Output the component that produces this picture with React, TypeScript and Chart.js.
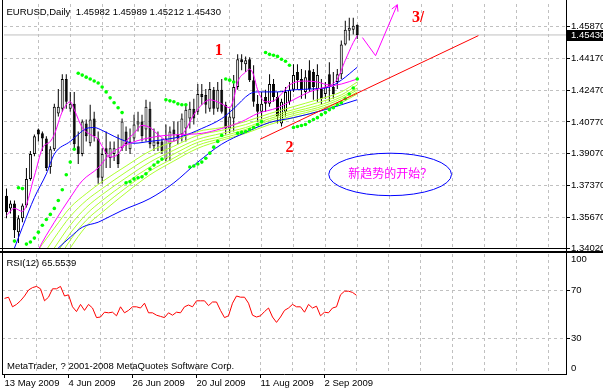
import React, { useEffect, useRef } from 'react';
import { Chart, registerables } from 'chart.js';

Chart.register(...registerables);

// ---------- text / axis data ----------
const symbol = 'EURUSD';
const timeframe = 'Daily';
const copyright = 'MetaTrader, ? 2001-2008 MetaQuotes Software Corp.';
const rsiPeriod = 12;
const dateLabels = ['13 May 2009', '4 Jun 2009', '26 Jun 2009', '20 Jul 2009', '11 Aug 2009', '2 Sep 2009'];
const labelBars = [0, 16, 32, 48, 64, 80];
const gridBars = [0, 8, 16, 24, 32, 40, 48, 56, 64, 72, 80, 88, 96, 104, 112, 120, 128, 136];
const priceTicks = [1.3402, 1.3567, 1.3737, 1.3907, 1.4077, 1.4247, 1.4417, 1.4587];
const rsiTickValues = [5, 30, 70, 95.8];
const rsiTickLabels = ['0', '30', '70', '100'];

// ---------- candles (13 May 2009 .. 14 Sep 2009) ----------
const opens = [1.3682, 1.3614, 1.3640, 1.3487, 1.3561, 1.3630, 1.3772, 1.3905, 1.4037, 1.4016,
  1.3989, 1.3836, 1.3931, 1.4122, 1.4148, 1.4307, 1.4148, 1.4174, 1.3947, 1.3905,
  1.4069, 1.3963, 1.4095, 1.3989, 1.3778, 1.3936, 1.3884, 1.3905, 1.3905, 1.3936,
  1.4026, 1.3931, 1.3989, 1.4063, 1.4079, 1.4037, 1.4148, 1.3947, 1.3973, 1.3973,
  1.3878, 1.3958, 1.4037, 1.4010, 1.4010, 1.4042, 1.4095, 1.4148, 1.4132, 1.4227,
  1.4222, 1.4148, 1.4249, 1.4148, 1.4249, 1.4169, 1.4042, 1.4095, 1.4264, 1.4413,
  1.4386, 1.4413, 1.4301, 1.4174, 1.4132, 1.4211, 1.4174, 1.4280, 1.4211, 1.4069,
  1.4132, 1.4185, 1.4249, 1.4344, 1.4307, 1.4238, 1.4354, 1.4344, 1.4254, 1.4254,
  1.4227, 1.4333, 1.4264, 1.4291, 1.4333, 1.4492, 1.4566, 1.4571, 1.45982];
const highs = [1.3720, 1.3656, 1.3656, 1.3577, 1.3640, 1.3831, 1.3921, 1.4010, 1.4042, 1.4026,
  1.4000, 1.3947, 1.4174, 1.4254, 1.4333, 1.4333, 1.4238, 1.4238, 1.4026, 1.4090,
  1.4090, 1.4169, 1.4132, 1.4026, 1.3936, 1.4026, 1.3973, 1.3973, 1.4010, 1.4095,
  1.4053, 1.4042, 1.4116, 1.4132, 1.4116, 1.4196, 1.4185, 1.4042, 1.4026, 1.3989,
  1.4063, 1.4053, 1.4079, 1.4079, 1.4122, 1.4169, 1.4185, 1.4201, 1.4280, 1.4280,
  1.4254, 1.4291, 1.4264, 1.4291, 1.4307, 1.4185, 1.4148, 1.4328, 1.4439, 1.4439,
  1.4428, 1.4423, 1.4381, 1.4222, 1.4238, 1.4249, 1.4333, 1.4307, 1.4238, 1.4201,
  1.4264, 1.4291, 1.4386, 1.4386, 1.4360, 1.4354, 1.4407, 1.4360, 1.4386, 1.4307,
  1.4291, 1.4397, 1.4344, 1.4360, 1.4513, 1.4619, 1.4635, 1.4635, 1.45989];
const lows = [1.3561, 1.3587, 1.3455, 1.3429, 1.3540, 1.3619, 1.3762, 1.3894, 1.3973, 1.3921,
  1.3815, 1.3799, 1.3921, 1.4106, 1.4132, 1.4148, 1.4132, 1.3936, 1.3852, 1.3894,
  1.3973, 1.3947, 1.3973, 1.3746, 1.3746, 1.3831, 1.3831, 1.3868, 1.3831, 1.3921,
  1.3921, 1.3905, 1.3973, 1.4026, 1.3973, 1.3973, 1.3936, 1.3921, 1.3921, 1.3905,
  1.3868, 1.3868, 1.3973, 1.3958, 1.3973, 1.3973, 1.4042, 1.4063, 1.4116, 1.4169,
  1.4122, 1.4132, 1.4116, 1.4132, 1.4122, 1.4010, 1.4016, 1.4026, 1.4249, 1.4354,
  1.4344, 1.4291, 1.4159, 1.4079, 1.4095, 1.4132, 1.4159, 1.4185, 1.4069, 1.4053,
  1.4106, 1.4169, 1.4238, 1.4254, 1.4201, 1.4201, 1.4238, 1.4196, 1.4185, 1.4169,
  1.4201, 1.4185, 1.4201, 1.4254, 1.4307, 1.4487, 1.4513, 1.4545, 1.45212];
const closes = [1.3593, 1.3640, 1.3497, 1.3561, 1.3630, 1.3772, 1.3905, 1.4000, 1.4010, 1.3989,
  1.3831, 1.3931, 1.4159, 1.4159, 1.4307, 1.4185, 1.4174, 1.3958, 1.3905, 1.4079,
  1.4000, 1.4090, 1.4000, 1.3778, 1.3905, 1.3905, 1.3936, 1.3936, 1.3852, 1.4079,
  1.3958, 1.3973, 1.4063, 1.4079, 1.4000, 1.4159, 1.3958, 1.3973, 1.3958, 1.3921,
  1.3989, 1.4026, 1.4010, 1.3989, 1.4095, 1.4143, 1.4148, 1.4095, 1.4227, 1.4211,
  1.4169, 1.4254, 1.4148, 1.4249, 1.4132, 1.4042, 1.4106, 1.4264, 1.4413, 1.4397,
  1.4407, 1.4301, 1.4185, 1.4132, 1.4174, 1.4174, 1.4280, 1.4211, 1.4106, 1.4185,
  1.4238, 1.4249, 1.4328, 1.4301, 1.4249, 1.4317, 1.4254, 1.4264, 1.4328, 1.4201,
  1.4264, 1.4264, 1.4227, 1.4333, 1.4492, 1.4571, 1.4582, 1.4592, 1.45430];

// ---------- Parabolic SAR ----------
const sar = [null, null, 1.3439, 1.3725, 1.3720, 1.3423, 1.3434, 1.3455, 1.3487, 1.3524,
  1.3555, 1.3582, 1.3614, 1.3656, 1.3714, 1.3794, 1.3862, 1.3931, 1.4338, 1.4328,
  1.4317, 1.4307, 1.4296, 1.4286, 1.4264, 1.4238, 1.4206, 1.4180, 1.4153, 1.4127,
  1.3751, 1.3757, 1.3772, 1.3778, 1.3783, 1.3799, 1.3825, 1.3846, 1.3862, 1.3878,
  1.4196, 1.4190, 1.4185, 1.4174, 1.4169, 1.4169, 1.3836, 1.3841, 1.3852, 1.3862,
  1.3883, 1.3910, 1.3942, 1.3973, 1.4005, 1.4307, 1.4301, 1.4291, 1.4016, 1.4021,
  1.4026, 1.4037, 1.4047, 1.4063, 1.4079, 1.4449, 1.4439, 1.4434, 1.4428, 1.4413,
  1.4402, 1.4381, 1.4047, 1.4053, 1.4058, 1.4063, 1.4079, 1.4090, 1.4100, 1.4116,
  1.4127, 1.4143, 1.4153, 1.4169, 1.4180, 1.4201, 1.4227, 1.4259, 1.4307];

// ---------- RSI(12) ----------
const rsi = [63, 64, 56, 58, 61, 65, 70, 72, 73, 71,
  61, 64, 71, 71, 73, 65, 66, 56, 52, 58,
  53, 58, 55, 47, 47.5, 51.5, 51, 51.5, 48.5, 56,
  51, 53, 56, 56, 55, 59, 51, 51, 49, 48,
  47, 51, 49, 51.5, 51, 56, 57.5, 56, 61, 61,
  61, 57, 60, 60, 53, 47, 48.5, 59, 65, 64,
  64, 59, 49, 47.5, 48.5, 52, 55, 47.5, 43, 47.5,
  53, 55, 58, 56, 56, 51.5, 58, 55, 56.5, 48.5,
  51.5, 51, 55, 56, 66, 69, 69, 68, 65.5539];

// ---------- moving averages: [bar, price] ----------
const magentaFast = [[0, 1.3577], [2, 1.3614], [4, 1.3598], [7, 1.3788], [9, 1.3936], [11, 1.3973], [12, 1.4010],
  [14, 1.4132], [16, 1.4185], [17, 1.4143], [19, 1.4047], [21, 1.4010], [23, 1.3984], [24, 1.3947], [26, 1.3889],
  [28, 1.3905], [30, 1.3973], [32, 1.4016], [34, 1.4058], [36, 1.4047], [38, 1.4010], [41, 1.3973], [43, 1.3984],
  [45, 1.4037], [47, 1.4116], [49, 1.4169], [51, 1.4196], [54, 1.4174], [56, 1.4153], [57, 1.4201], [58, 1.4291],
  [60, 1.4344], [61, 1.4360], [62, 1.4328], [63, 1.4249], [65, 1.4185], [67, 1.4190], [69, 1.4227], [71, 1.4275],
  [75, 1.4296], [78, 1.4291], [81, 1.4275], [83, 1.4307], [85, 1.4407], [87, 1.4502], [88, 1.4539]];
const magentaSlow = [[6, 1.3290], [8, 1.3392], [12, 1.3540], [16, 1.3672], [19, 1.3762], [23, 1.3831], [26, 1.3905],
  [31, 1.3963], [38, 1.4000], [44, 1.4010], [49, 1.4016], [54, 1.4042], [59, 1.4079], [63, 1.4122], [68, 1.4153],
  [72, 1.4196], [76, 1.4238], [80, 1.4264], [84, 1.4280], [88, 1.4307]];
const blueFast = [[0, 1.3296], [2, 1.3402], [4, 1.3513], [7, 1.3672], [10, 1.3799], [12, 1.3905], [16, 1.3973],
  [18, 1.4010], [20, 1.4042], [22, 1.4047], [24, 1.4032], [27, 1.4000], [30, 1.3973], [32, 1.3963], [36, 1.3973],
  [40, 1.3984], [44, 1.4000], [49, 1.4042], [54, 1.4095], [57, 1.4148], [61, 1.4227], [63, 1.4238], [68, 1.4238],
  [72, 1.4249], [77, 1.4254], [81, 1.4264], [84, 1.4301], [88, 1.4370]];
const blueSlow = [[10, 1.3344], [13, 1.3402], [16, 1.3460], [19, 1.3513], [23, 1.3540], [24, 1.3550], [29, 1.3603],
  [36, 1.3667], [42, 1.3751], [48, 1.3862], [54, 1.3958], [60, 1.4021], [66, 1.4074], [72, 1.4100], [80, 1.4143],
  [88, 1.4196]];
const greenBars = [4, 8, 12, 16, 20, 24, 30, 36, 42, 48, 54, 60, 66, 72, 78, 84, 88];
const green1 = [1.3259, 1.3392, 1.3508, 1.3619, 1.3693, 1.3757, 1.3841, 1.3921, 1.3973, 1.4026, 1.4047, 1.4079, 1.4122, 1.4159, 1.4196, 1.4238, 1.4291];
const green2 = [1.3206, 1.3328, 1.3455, 1.3571, 1.3656, 1.3720, 1.3809, 1.3889, 1.3947, 1.4005, 1.4032, 1.4063, 1.4106, 1.4143, 1.4180, 1.4222, 1.4275];
const green3 = [1.3153, 1.3275, 1.3402, 1.3524, 1.3619, 1.3688, 1.3778, 1.3862, 1.3926, 1.3984, 1.4016, 1.4047, 1.4095, 1.4132, 1.4164, 1.4211, 1.4259];
const green4 = [1.3100, 1.3222, 1.3354, 1.3481, 1.3582, 1.3656, 1.3751, 1.3836, 1.3905, 1.3968, 1.4000, 1.4037, 1.4085, 1.4122, 1.4153, 1.4201, 1.4249];
const green5 = [1.3048, 1.3169, 1.3307, 1.3444, 1.3550, 1.3624, 1.3725, 1.3815, 1.3884, 1.3952, 1.3989, 1.4026, 1.4074, 1.4111, 1.4143, 1.4190, 1.4238];
const green6 = [1.2995, 1.3116, 1.3259, 1.3402, 1.3518, 1.3593, 1.3698, 1.3794, 1.3868, 1.3936, 1.3979, 1.4016, 1.4063, 1.4100, 1.4132, 1.4180, 1.4227];

// ---------- hand-drawn annotations: [bar, price] ----------
const trendLine = [[63.6, 1.3984], [118.4, 1.45394]];
const arrowPath = [[89.3, 1.4529], [92.6, 1.4432], [98.05, 1.4705]];
const waveLabels = [
  { bar: 53.25, price: 1.4460, text: '1' },
  { bar: 71, price: 1.3936, text: '2' },
  { bar: 102.75, price: 1.4635, text: '3' },
];
const slashLabel = { bar: 104.25, price: 1.4635, text: '/' };
const noteEllipse = { bar: 96.25, price: 1.3796, halfBars: 15.4, halfPrice: 0.01137 };
const noteText = '新趋势的开始？';

const FONT = "'Liberation Sans', Arial, sans-serif";
const GRID = '#c0c0c0';
const CLEAR = 'rgba(0,0,0,0)';

export default function App() {
  const mainRef = useRef<HTMLCanvasElement | null>(null);
  const rsiRef = useRef<HTMLCanvasElement | null>(null);

  useEffect(() => {
    document.body.style.margin = '0';
    const xMin = -0.625;
    const xMax = xMin + 141;
    const n = closes.length;
    const idx = closes.map((_, i) => i);
    const pts = (a: number[][]) => a.map(([x, y]) => ({ x, y }));
    const gpts = (vals: number[]) => vals.map((v, i) => ({ x: greenBars[i], y: v }));
    const lastClose = closes[n - 1];
    const tickFont = { family: FONT, size: 9.5 };

    const lineDs = (data: any[], color: string, order: number) => ({
      type: 'line', data, borderColor: color, borderWidth: 1, pointRadius: 0,
      cubicInterpolationMode: 'monotone', order,
    });

    const overlay = {
      id: 'mtOverlay',
      afterDatasetsDraw(chart: any) {
        const { ctx } = chart;
        const xs = chart.scales.x;
        const ys = chart.scales.y;
        ctx.save();
        // ellipse
        const cx = xs.getPixelForValue(noteEllipse.bar);
        const cy = ys.getPixelForValue(noteEllipse.price);
        const rx = xs.getPixelForValue(noteEllipse.bar + noteEllipse.halfBars) - cx;
        const ry = cy - ys.getPixelForValue(noteEllipse.price + noteEllipse.halfPrice);
        ctx.strokeStyle = '#0000ff';
        ctx.lineWidth = 1;
        ctx.beginPath();
        ctx.ellipse(cx, cy, rx, ry, 0, 0, Math.PI * 2);
        ctx.stroke();
        ctx.fillStyle = '#ff00ff';
        ctx.font = "12px 'Noto Sans CJK SC'";
        ctx.textAlign = 'center';
        ctx.textBaseline = 'middle';
        ctx.fillText(noteText, cx, cy - 1);
        // wave numbers
        ctx.fillStyle = '#ff0000';
        ctx.font = "bold 16px 'Liberation Serif', serif";
        waveLabels.forEach((w) => {
          ctx.fillText(w.text, xs.getPixelForValue(w.bar), ys.getPixelForValue(w.price));
        });
        ctx.font = "15px 'Liberation Sans', sans-serif";
        ctx.fillText(slashLabel.text, xs.getPixelForValue(slashLabel.bar), ys.getPixelForValue(slashLabel.price));
        // arrow head
        const a = arrowPath[arrowPath.length - 2];
        const b = arrowPath[arrowPath.length - 1];
        const x1 = xs.getPixelForValue(a[0]), y1 = ys.getPixelForValue(a[1]);
        const x2 = xs.getPixelForValue(b[0]), y2 = ys.getPixelForValue(b[1]);
        const ang = Math.atan2(y2 - y1, x2 - x1);
        const len = 7;
        ctx.strokeStyle = '#ff00ff';
        ctx.beginPath();
        ctx.moveTo(x2, y2);
        ctx.lineTo(x2 - len * Math.cos(ang - 0.5), y2 - len * Math.sin(ang - 0.5));
        ctx.moveTo(x2, y2);
        ctx.lineTo(x2 - len * Math.cos(ang + 0.5), y2 - len * Math.sin(ang + 0.5));
        ctx.stroke();
        ctx.restore();
      },
      afterDraw(chart: any) {
        const { ctx, chartArea } = chart;
        const ys = chart.scales.y;
        ctx.save();
        ctx.font = `9.5px ${FONT}`;
        ctx.fillStyle = '#000';
        ctx.textAlign = 'left';
        ctx.textBaseline = 'alphabetic';
        const title = `${symbol},${timeframe}  ${opens[n - 1].toFixed(5)} ${highs[n - 1].toFixed(5)} ${lows[n - 1].toFixed(5)} ${closes[n - 1].toFixed(5)}`;
        ctx.fillText(title, 6.5, 15);
        const py = Math.round(ys.getPixelForValue(lastClose));
        ctx.fillStyle = '#000';
        ctx.fillRect(chartArea.right + 1, py - 5, 40, 11);
        ctx.fillStyle = '#fff';
        ctx.textBaseline = 'middle';
        ctx.fillText(lastClose.toFixed(5), chartArea.right + 5, py + 0.5);
        ctx.restore();
      },
    };

    const main = new Chart(mainRef.current as HTMLCanvasElement, {
      type: 'bar',
      data: {
        datasets: [
          {
            type: 'line', data: [{ x: xMin, y: lastClose }, { x: xMax, y: lastClose }],
            borderColor: '#c0c0c0', borderWidth: 1, pointRadius: 0, order: 30,
          },
          {
            type: 'bar', data: idx.map((i) => ({ x: i, y: [lows[i], highs[i]] })),
            backgroundColor: '#000', borderWidth: 0, grouped: false, barThickness: 1, maxBarThickness: 1,
            inflateAmount: 0, order: 29,
          },
          {
            type: 'bar', data: idx.map((i) => ({ x: i, y: [opens[i], closes[i]] })),
            backgroundColor: idx.map((i) => (closes[i] >= opens[i] ? '#ffffff' : '#000000')),
            borderColor: '#000', borderWidth: 1, borderSkipped: false, grouped: false,
            barThickness: 3, maxBarThickness: 3, inflateAmount: 0, minBarLength: 1, order: 28,
          },
          lineDs(gpts(green6), '#adff2f', 27),
          lineDs(gpts(green5), '#adff2f', 26),
          lineDs(gpts(green4), '#adff2f', 25),
          lineDs(gpts(green3), '#adff2f', 24),
          lineDs(gpts(green2), '#adff2f', 23),
          lineDs(gpts(green1), '#adff2f', 22),
          lineDs(pts(blueSlow), '#0000ff', 21),
          lineDs(pts(blueFast), '#0000ff', 20),
          lineDs(pts(magentaSlow), '#ff00ff', 19),
          lineDs(pts(magentaFast), '#ff00ff', 18),
          {
            type: 'scatter',
            data: idx.filter((i) => sar[i] !== null).map((i) => ({ x: i, y: sar[i] })),
            pointRadius: 1.8, pointBackgroundColor: '#00ff00', pointBorderWidth: 0, showLine: false, order: 17,
          },
          {
            type: 'line', data: pts(trendLine), borderColor: '#ff0000', borderWidth: 1, pointRadius: 0, order: 16,
          },
          {
            type: 'line', data: pts(arrowPath), borderColor: '#ff00ff', borderWidth: 1, pointRadius: 0, order: 15,
          },
        ] as any,
      },
      options: {
        animation: false,
        responsive: false,
        devicePixelRatio: 1,
        events: [],
        layout: { padding: { left: 2, top: 1, right: 0, bottom: 5 } },
        plugins: { legend: { display: false }, tooltip: { enabled: false } },
        scales: {
          x: {
            type: 'linear', min: xMin, max: xMax, offset: false,
            afterBuildTicks: (s: any) => { s.ticks = gridBars.filter((b) => b > 0).map((v) => ({ value: v })); },
            afterFit: (s: any) => { s.height = 0; s.paddingLeft = 0; s.paddingRight = 0; },
            ticks: { display: false },
            grid: { color: GRID, lineWidth: 1, drawTicks: false, offset: false },
            border: { display: false, dash: [3, 3] },
          },
          y: {
            type: 'linear', position: 'right', min: 1.3402, max: 1.47087,
            afterBuildTicks: (s: any) => { s.ticks = priceTicks.map((v) => ({ value: v })); },
            afterFit: (s: any) => { s.width = 37; s.paddingTop = 0; s.paddingBottom = 0; },
            ticks: {
              autoSkip: false, color: '#000', font: tickFont, padding: 1,
              callback: (v: any) => Number(v).toFixed(5),
            },
            grid: { color: GRID, lineWidth: 1, drawTicks: true, tickLength: 4, tickColor: '#000', tickWidth: 1 },
            border: { display: true, color: '#000', width: 1, dash: [3, 3] },
          },
        },
      } as any,
      plugins: [overlay],
    });

    const rsiText = {
      id: 'rsiText',
      afterDraw(chart: any) {
        const { ctx } = chart;
        ctx.save();
        ctx.font = `9.5px ${FONT}`;
        ctx.fillStyle = '#000';
        ctx.textAlign = 'left';
        ctx.textBaseline = 'alphabetic';
        ctx.fillText(`RSI(${rsiPeriod}) ${rsi[rsi.length - 1].toFixed(4)}`, 6.5, 13);
        ctx.fillText(copyright, 7, 116);
        ctx.restore();
      },
    };

    const rsiChart = new Chart(rsiRef.current as HTMLCanvasElement, {
      type: 'line',
      data: {
        datasets: [
          {
            data: idx.map((i) => ({ x: i, y: rsi[i] })),
            borderColor: '#ff0000', borderWidth: 1, pointRadius: 0, tension: 0,
          },
        ] as any,
      },
      options: {
        animation: false,
        responsive: false,
        devicePixelRatio: 1,
        events: [],
        layout: { padding: { left: 2, top: 1, right: 0, bottom: 0 } },
        plugins: { legend: { display: false }, tooltip: { enabled: false } },
        scales: {
          x: {
            type: 'linear', min: xMin, max: xMax, offset: false,
            afterBuildTicks: (s: any) => { s.ticks = gridBars.map((v) => ({ value: v })); },
            afterFit: (s: any) => { s.height = 18; s.paddingLeft = 0; s.paddingRight = 0; },
            ticks: {
              autoSkip: false, maxRotation: 0, minRotation: 0, align: 'start', padding: 0,
              color: '#000', font: tickFont,
              callback: (v: any) => { const k = labelBars.indexOf(Number(v)); return k >= 0 ? dateLabels[k] : ''; },
            },
            grid: {
              color: (c: any) => (c.tick && c.tick.value === 0 ? CLEAR : GRID),
              lineWidth: 1, drawTicks: true, tickLength: 4, offset: false,
              tickColor: (c: any) => (c.tick && labelBars.indexOf(c.tick.value) >= 0 ? '#000' : CLEAR),
            },
            border: { display: true, color: '#000', width: 1, dash: [3, 3] },
          },
          y: {
            type: 'linear', position: 'right', min: 0, max: 100,
            afterBuildTicks: (s: any) => { s.ticks = rsiTickValues.map((v) => ({ value: v })); },
            afterFit: (s: any) => { s.width = 37; s.paddingTop = 0; s.paddingBottom = 0; },
            ticks: {
              autoSkip: false, color: '#000', font: tickFont, padding: 1,
              callback: (_v: any, i: number) => rsiTickLabels[i],
            },
            grid: {
              color: (c: any) => (c.tick && (c.tick.value === 30 || c.tick.value === 70) ? GRID : CLEAR),
              lineWidth: 1, drawTicks: true, tickLength: 4,
              tickColor: (c: any) => (c.tick && (c.tick.value === 30 || c.tick.value === 70) ? '#000' : CLEAR),
            },
            border: { display: true, color: '#000', width: 1, dash: [3, 3] },
          },
        },
      } as any,
      plugins: [rsiText],
    });

    return () => {
      main.destroy();
      rsiChart.destroy();
    };
  }, []);

  const line = (left: number, top: number, width: number, height: number) => (
    <div style={{ position: 'absolute', left, top, width, height, background: '#000', zIndex: 2 }} />
  );

  return (
    <div style={{ position: 'relative', width: 603, height: 392, background: '#fff', overflow: 'hidden' }}>
      <canvas ref={mainRef} width={603} height={253} style={{ position: 'absolute', left: 0, top: 0, display: 'block' }} />
      <canvas ref={rsiRef} width={603} height={139} style={{ position: 'absolute', left: 0, top: 253, display: 'block' }} />
      {line(2, 0, 1, 375)}
      {line(566, 0, 1, 375)}
      {line(0, 248, 566, 1)}
      {line(0, 251, 603, 2)}
    </div>
  );
}
